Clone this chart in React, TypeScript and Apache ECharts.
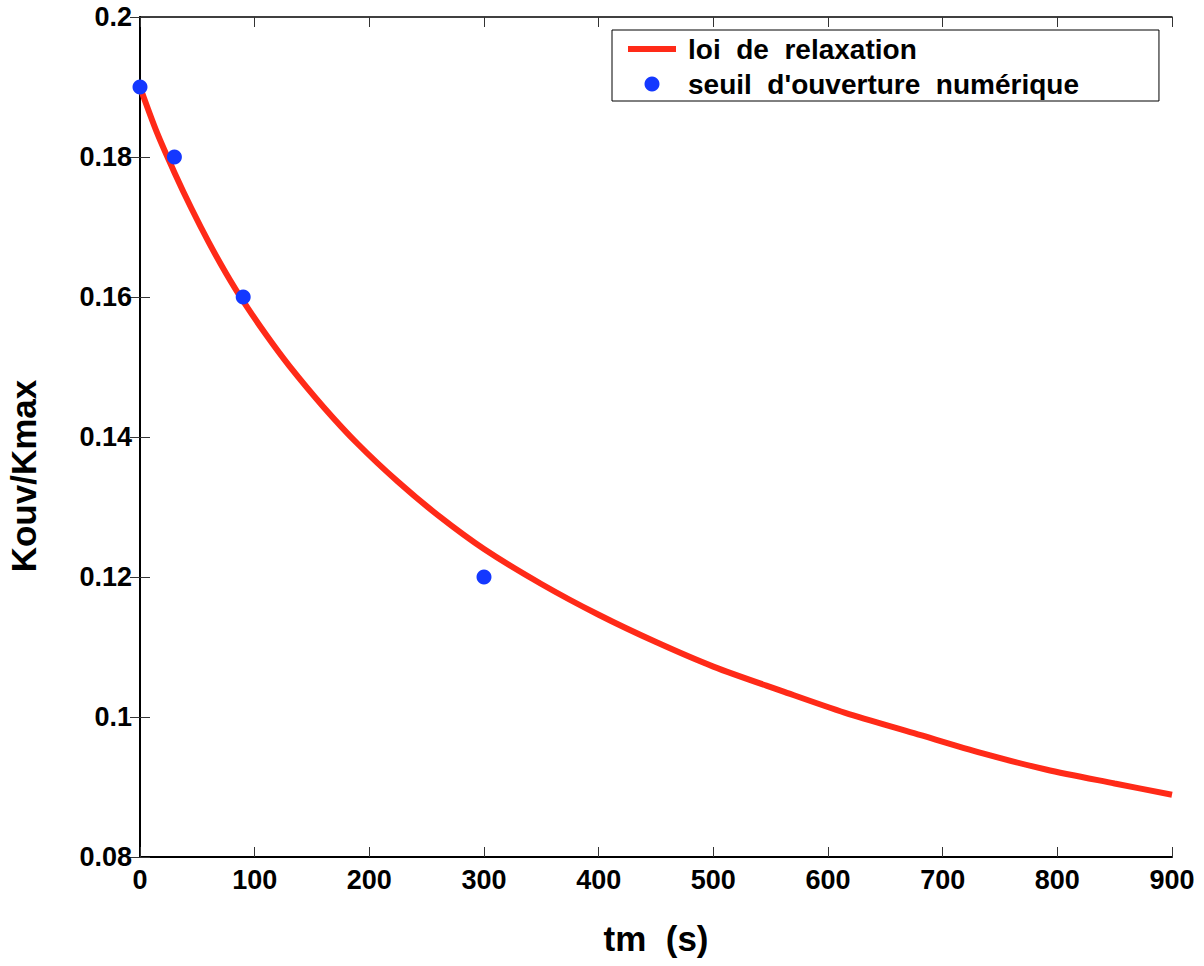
import React, { useEffect, useRef } from "react";
import * as echarts from "echarts";

// Relaxation law curve (tm in s, Kouv/Kmax)
const curveTm = [0, 15, 30, 45, 60, 75, 90, 110, 130, 160, 190, 225, 260, 300, 350, 400, 450, 500, 560, 615, 675, 735, 790, 850, 900];
const curveK = [0.19, 0.1834, 0.1778, 0.1726, 0.1678, 0.1634, 0.1594, 0.1546, 0.1502, 0.1443, 0.139, 0.1336, 0.1288, 0.124, 0.119, 0.1146, 0.1107, 0.1072, 0.1037, 0.1006, 0.0977, 0.0948, 0.0925, 0.0905, 0.0889];

// Numerical opening threshold points
const pointTm = [0, 30, 90, 300];
const pointK = [0.19, 0.18, 0.16, 0.12];

const seriesNames = ["loi  de  relaxation", "seuil  d'ouverture  numérique"];
const xLabel = "tm  (s)";
const yLabel = "Kouv/Kmax";

const FONT = "'Liberation Sans', Arial, Helvetica, sans-serif";
const LINE_ICON = "path://M0,0 M48,15 M0,4.5 L48,4.5 L48,10.5 L0,10.5 Z";

export default function App() {
  const ref = useRef<HTMLDivElement>(null);
  useEffect(() => {
    if (!ref.current) return;
    const chart = echarts.init(ref.current, undefined, { renderer: "svg" });
    const axisTick = { show: true, inside: true, length: 10, lineStyle: { color: "#333", width: 1 } };
    chart.setOption({
      animation: false,
      backgroundColor: "#fff",
      grid: { left: 140, right: 32, top: 17, bottom: 109, containLabel: false, outerBoundsMode: "none" },
      legend: {
        orient: "vertical",
        left: 612,
        top: 30,
        padding: [5, 80, 3, 16],
        itemGap: 7,
        itemWidth: 48,
        itemHeight: 15,
        borderColor: "#000",
        borderWidth: 1,
        backgroundColor: "#fff",
        textStyle: { fontFamily: FONT, fontWeight: "bold", fontSize: 28, color: "#000", lineHeight: 28, padding: [0, 0, 0, 7] },
        data: [
          { name: seriesNames[0], icon: LINE_ICON, itemStyle: { color: "#ff2a18" } },
          { name: seriesNames[1], icon: "circle", itemStyle: { color: "#1438ff" } },
        ],
      },
      xAxis: [
        {
          type: "value",
          min: 0,
          max: 900,
          interval: 100,
          position: "bottom",
          name: xLabel,
          nameLocation: "middle",
          nameGap: 64,
          nameTextStyle: { fontFamily: FONT, fontWeight: "bold", fontSize: 35, color: "#000" },
          axisLine: { show: true, lineStyle: { color: "#000", width: 2 } },
          axisTick,
          splitLine: { show: false },
          axisLabel: { fontFamily: FONT, fontWeight: "bold", fontSize: 27, color: "#000", margin: 9 },
        },
        {
          type: "value",
          min: 0,
          max: 900,
          interval: 100,
          position: "top",
          axisLine: { show: true, lineStyle: { color: "#000", width: 1.5 } },
          axisTick,
          splitLine: { show: false },
          axisLabel: { show: false },
        },
      ],
      yAxis: [
        {
          type: "value",
          min: 0.08,
          max: 0.2,
          interval: 0.02,
          position: "left",
          name: yLabel,
          nameLocation: "middle",
          nameGap: 99,
          nameTextStyle: { fontFamily: FONT, fontWeight: "bold", fontSize: 35, color: "#000", padding: [0, 78, 0, 0] },
          axisLine: { show: true, lineStyle: { color: "#000", width: 1.5 } },
          axisTick,
          splitLine: { show: false },
          axisLabel: { fontFamily: FONT, fontWeight: "bold", fontSize: 27, color: "#000", margin: 8 },
        },
        {
          type: "value",
          min: 0.08,
          max: 0.2,
          interval: 0.02,
          position: "right",
          axisLine: { show: true, lineStyle: { color: "#000", width: 2 } },
          axisTick,
          splitLine: { show: false },
          axisLabel: { show: false },
        },
      ],
      series: [
        {
          name: seriesNames[0],
          type: "line",
          xAxisIndex: 0,
          yAxisIndex: 0,
          data: curveTm.map((t, i) => [t, curveK[i]]),
          smooth: 0.3,
          symbol: "none",
          lineStyle: { color: "#ff2a18", width: 6 },
          itemStyle: { color: "#ff2a18" },
          z: 2,
        },
        {
          name: seriesNames[1],
          type: "scatter",
          xAxisIndex: 0,
          yAxisIndex: 0,
          data: pointTm.map((t, i) => [t, pointK[i]]),
          symbol: "circle",
          symbolSize: 15,
          itemStyle: { color: "#1438ff", opacity: 1 },
          z: 3,
        },
      ],
    });
    return () => chart.dispose();
  }, []);
  return <div ref={ref} style={{ position: "fixed", left: 0, top: 0, width: 1204, height: 966 }} />;
}
